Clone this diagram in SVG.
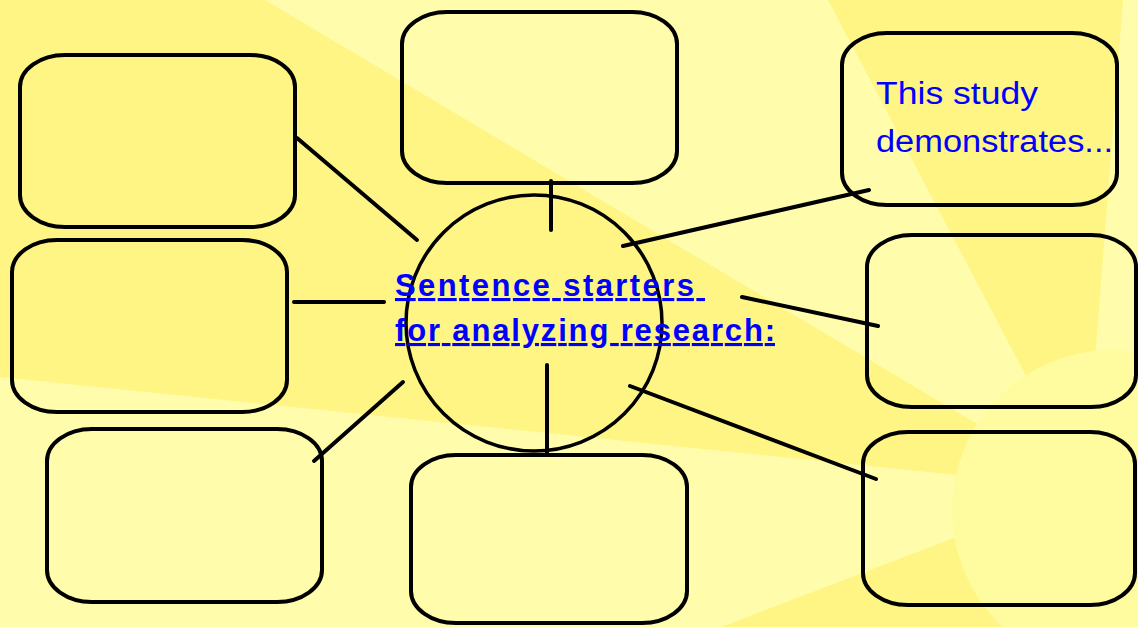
<svg xmlns="http://www.w3.org/2000/svg" width="1138" height="627" viewBox="0 0 1138 627">
<style>
.box{fill:none;stroke:#000;stroke-width:4}
.conn line{stroke:#000;stroke-width:4;stroke-linecap:round}
.hub{fill:none;stroke:#000;stroke-width:3.5}
.t{font-family:"Liberation Sans","DejaVu Sans",sans-serif;fill:#0000FF}
.h{font-size:31px;font-weight:bold;text-decoration:underline}
.n{font-size:31px}
</style>
<g id="background">
<rect x="0" y="0" width="1138" height="627" fill="#FFFDAC"/>
<polygon points="1085,488 0,377 0,0 265,0" fill="#FFF584"/>
<polygon points="1085,488 828,0 1123,0" fill="#FFF584"/>
<polygon points="1085,488 721,627 1045,627" fill="#FFF584"/>
<circle cx="1112" cy="510" r="160" fill="#FFFC9F"/>
</g>
<g id="connectors" class="conn">
<line x1="551" y1="181" x2="551" y2="230"/>
<line x1="297" y1="138" x2="417" y2="240"/>
<line x1="294" y1="302" x2="384" y2="302"/>
<line x1="314" y1="461" x2="403" y2="382"/>
<line x1="547" y1="365" x2="547" y2="455"/>
<line x1="623" y1="246" x2="869" y2="190"/>
<line x1="742" y1="297" x2="878" y2="326"/>
<line x1="630" y1="386" x2="876" y2="479"/>
</g>
<g id="hub">
<circle class="hub" cx="534" cy="323" r="128"/>
<text class="t h" x="395" y="296" textLength="310" lengthAdjust="spacing">Sentence starters&#160;</text>
<text class="t h" x="395" y="341" textLength="380" lengthAdjust="spacing">for analyzing research:</text>
</g>
<g id="node-top-left"><rect class="box" x="20" y="55" width="275" height="172" rx="45" ry="32"/></g>
<g id="node-left"><rect class="box" x="12" y="240" width="275" height="172" rx="45" ry="32"/></g>
<g id="node-bottom-left"><rect class="box" x="47" y="429" width="275" height="173" rx="45" ry="32"/></g>
<g id="node-top"><rect class="box" x="402" y="12" width="275" height="171" rx="45" ry="32"/></g>
<g id="node-bottom"><rect class="box" x="411" y="455" width="276" height="168" rx="45" ry="32"/></g>
<g id="node-top-right">
<rect class="box" x="842" y="33" width="275" height="172" rx="45" ry="32"/>
<text class="t n" x="876" y="104" textLength="162" lengthAdjust="spacingAndGlyphs">This study</text>
<text class="t n" x="876" y="152" textLength="237" lengthAdjust="spacingAndGlyphs">demonstrates...</text>
</g>
<g id="node-right"><rect class="box" x="867" y="235" width="269" height="172" rx="45" ry="32"/></g>
<g id="node-bottom-right"><rect class="box" x="863" y="432" width="272" height="173" rx="45" ry="32"/></g>
</svg>
